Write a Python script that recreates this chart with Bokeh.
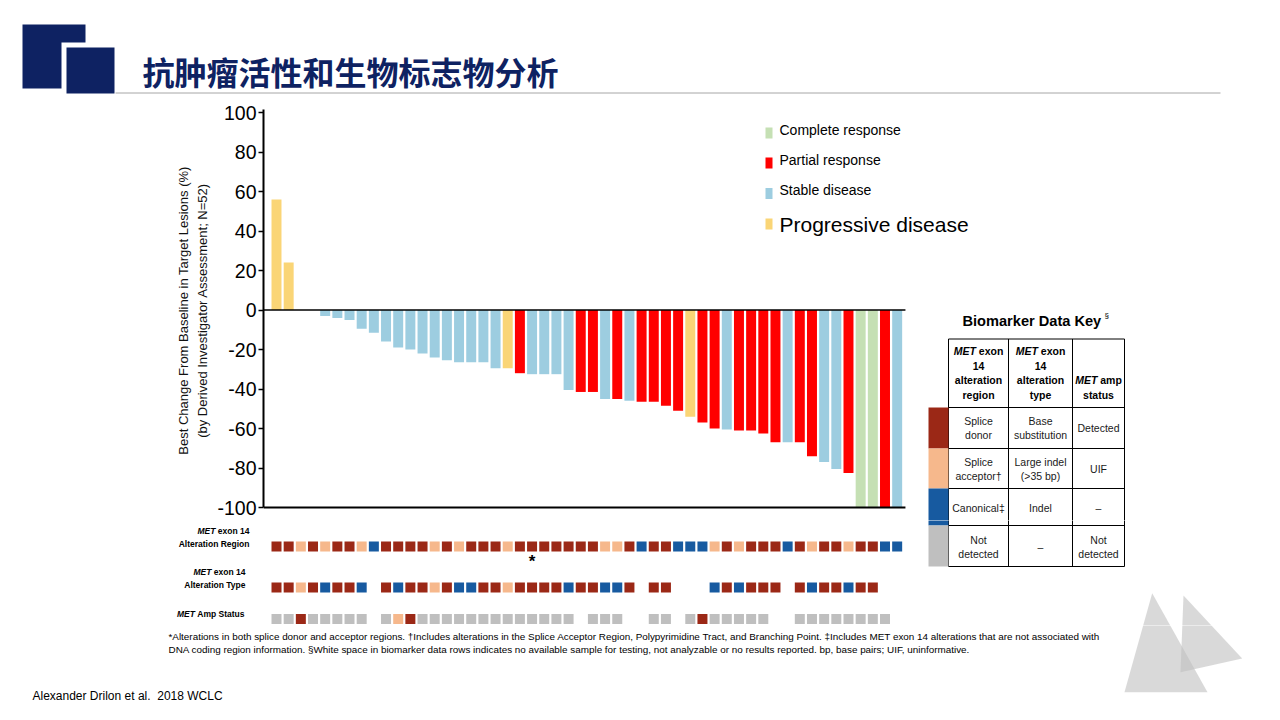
from bokeh.plotting import figure
from bokeh.layouts import column
from bokeh.models import Range1d, FixedTicker
from bokeh.core.properties import value
from bokeh.embed import file_html
from bokeh.resources import INLINE

# ---------------- data ----------------
change_pct = [56, 24, 0, 0, -3, -4, -5, -9.5, -11.5, -16, -19, -20, -22, -24, -25.5,
              -26.5, -26.5, -26.5, -29.5, -29.5, -32, -32.5, -32.5, -32.5, -40.5, -41.5,
              -41.5, -45, -45, -46, -46.5, -46.5, -48.5, -51, -54, -57, -60, -60.5, -61,
              -61, -62.5, -67, -67, -67, -74, -77, -80.5, -82.5, -100, -100, -100, -100]
response = (["PD", "PD", "NE", "NE"] + ["SD"] * 15 +
            ["PD", "PR", "SD", "SD", "SD", "SD", "PR", "PR", "SD", "PR", "SD", "PR", "PR",
             "PR", "PR", "PD", "PR", "PR", "SD", "PR", "PR", "PR", "PR", "SD", "PR", "PR",
             "SD", "SD", "PR", "CR", "CR", "PR", "SD"])
# biomarker rows: D = dark red, A = peach, C = blue, G = grey, None = no sample
alt_region = ["D", "D", "A", "D", "A", "D", "D", "A", "C", "D",
              "D", "D", "D", "A", "D", "A", "D", "D", "D", "A",
              "D", "D", "D", "D", "D", "D", "D", "A", "A", "D",
              "C", "D", "D", "C", "C", "C", "A", "D", "A", "D",
              "D", "D", "C", "D", "A", "D", "D", "A", "D", "D",
              "C", "C"]
alt_type = ["D", "D", "A", "D", "C", "D", "D", "C", None, "D",
            "C", "D", "D", "A", "D", "C", "C", "D", "D", "A",
            "D", "D", "D", "D", "C", "D", "D", "C", "C", "D",
            None, "D", "D", None, None, None, "C", "D", "C", "D",
            "D", "D", None, "D", "C", "D", "D", "C", "D", "D",
            None, None]
amp_status = ["G", "G", "D", "G", "G", "G", "G", "G", None, "G",
              "A", "D", "G", "G", "G", "G", "G", "G", "G", "G",
              "G", "G", "G", "G", "G", None, "G", "G", "G", None,
              None, "G", "G", None, "G", "D", "G", "G", "G", "G",
              "G", None, None, "G", "G", "G", "G", "G", "G", "G",
              "G", None]
asterisk_patient = 21

y_ticks = [-100, -80, -60, -40, -20, 0, 20, 40, 60, 80, 100]
legend_labels = ["Complete response", "Partial response", "Stable disease", "Progressive disease"]
legend_keys = ["CR", "PR", "SD", "PD"]

title_text = "抗肿瘤活性和生物标志物分析"
y_label = "Best Change From Baseline in Target Lesions (%)\n(by Derived Investigator Assessment; N=52)"
footnote_1 = ("*Alterations in both splice donor and acceptor regions. \u2020Includes alterations in the Splice "
              "Acceptor Region, Polypyrimidine Tract, and Branching Point. \u2021Includes MET exon 14 "
              "alterations that are not associated with")
footnote_2 = ("DNA coding region information. \u00a7White space in biomarker data rows indicates no available "
              "sample for testing, not analyzable or no results reported. bp, base pairs; UIF, uninformative.")
author = "Alexander Drilon et al.\u00a0 2018 WCLC"

# ---------------- styles ----------------
RESP_COLORS = {"CR": "#C5E0B4", "PR": "#FF0000", "SD": "#9DCDE0", "PD": "#FAD576", "NE": "#FFFFFF"}
BIO_COLORS = {"D": "#9B2816", "A": "#F6B88C", "C": "#175AA0", "G": "#BFBFBF"}
NAVY = "#0E2262"
FONT = "Liberation Sans"
W, H = 1264, 704
COL0, COLW = 276.0, 12.17      # page-x of patient 0 centre, spacing
ZERO_Y, UNIT = 309.5, 1.975    # page-y of 0 %, px per %

def make_fig(y0, y1, frame_left, x_range, y_range=None, with_axis=False):
    p = figure(width=W, height=y1 - y0, x_range=x_range,
               y_range=y_range if y_range is not None else Range1d(y1, y0),
               output_backend="svg", toolbar_location=None,
               x_axis_location=None, y_axis_location="left" if with_axis else None,
               min_border_left=frame_left, min_border_right=0,
               min_border_top=0, min_border_bottom=0)
    if "frame_align" in p.properties():
        p.frame_align = False
    p.extra_x_ranges = {"px": Range1d(frame_left, W)}
    p.extra_y_ranges = {"px": Range1d(y1, y0)}
    p.outline_line_color = None
    p.grid.visible = False
    p.background_fill_color = "white"
    p.border_fill_color = "white"
    return p

def col_range(frame_left):
    return Range1d((frame_left - COL0) / COLW, (W - COL0) / COLW)

header = make_fig(0, 100, 0, Range1d(0, W))
top = make_fig(100, 520, 263, col_range(263),
               y_range=Range1d((ZERO_Y - 520) / UNIT, (ZERO_Y - 100) / UNIT), with_axis=True)
bottom = make_fig(520, 625, 0, col_range(0))
footer = make_fig(625, H, 0, Range1d(0, W))
bands = [(header, 0, 100), (top, 100, 520), (bottom, 520, 625), (footer, 625, H)]

def figs_for(ymin, ymax):
    return [f for f, a, b in bands if ymax > a and ymin < b]

def fig_at(y):
    for f, a, b in bands:
        if a <= y < b:
            return f
    return bands[-1][0]

def txt(x, y, s, size, bold=False, italic=False, color="black", align="left", font=FONT, baseline="middle"):
    style = "bold italic" if bold and italic else ("bold" if bold else ("italic" if italic else "normal"))
    fig_at(y).text(x=[x], y=[y], text=[s], x_range_name="px", y_range_name="px",
                   text_font=value(font), text_font_size=f"{size}px", text_font_style=style,
                   text_color=color, text_align=align, text_baseline=baseline)

def box(x0, x1, y0, y1, color, alpha=1.0):
    for f in figs_for(y0, y1):
        f.quad(left=[x0], right=[x1], top=[y0], bottom=[y1], x_range_name="px", y_range_name="px",
               fill_color=color, fill_alpha=alpha, line_color=None)

def hline(x0, x1, y, color="black", width=1.0):
    for f in figs_for(y - 1, y + 1):
        f.segment(x0=[x0], y0=[y], x1=[x1], y1=[y], x_range_name="px", y_range_name="px",
                  line_color=color, line_width=width)

def vline(x, y0, y1, color="black", width=1.0):
    for f in figs_for(y0, y1):
        f.segment(x0=[x], y0=[y0], x1=[x], y1=[y1], x_range_name="px", y_range_name="px",
                  line_color=color, line_width=width)

# ---------------- header ----------------
box(22, 85, 24, 88, NAVY)
box(61, 119, 42, 98, "white")
box(66, 114, 47, 93, NAVY)
txt(142, 70, title_text, 32, bold=True, color=NAVY, font="Noto Sans CJK SC")
hline(115, 1220, 92.5, color="#A6A6A6", width=1)

# ---------------- waterfall ----------------
n = len(change_pct)
idx = list(range(n))
bar_colors = [RESP_COLORS[r] for r in response]
top.vbar(x=idx, top=change_pct, bottom=0, width=0.82, fill_color=bar_colors, line_color=None)
x_end = n - 0.32
top.segment(x0=[top.x_range.start], y0=[0], x1=[x_end], y1=[0], line_color="black", line_width=1.5)
top.segment(x0=[top.x_range.start], y0=[-100], x1=[x_end], y1=[-100], line_color="black", line_width=2)

ax = top.yaxis[0]
ax.ticker = FixedTicker(ticks=y_ticks)
ax.major_label_overrides = {t: str(t) for t in y_ticks}
ax.bounds = (-100, 101.5)
ax.axis_line_color = "black"
ax.axis_line_width = 2
ax.major_tick_in = 0
ax.major_tick_out = 5
ax.major_tick_line_width = 1.5
ax.minor_tick_line_color = None
ax.major_label_text_font = FONT
ax.major_label_text_font_size = "19.5px"
ax.major_label_text_color = "black"
ax.major_label_standoff = 2
ax.axis_label = y_label
ax.axis_label_text_font = FONT
ax.axis_label_text_font_size = "13px"
ax.axis_label_text_font_style = "normal"
ax.axis_label_text_color = "#111111"
ax.axis_label_text_line_height = 1.3
ax.axis_label_standoff = 4

# legend
leg_y = [132.5, 162.5, 193, 223.5]
leg_sizes = [14, 14, 14, 21]
leg_text_y = [129, 159, 189, 224]
for key, lab, yy, ty, sz in zip(legend_keys, legend_labels, leg_y, leg_text_y, leg_sizes):
    box(765, 772, yy - 5.5, yy + 5.5, RESP_COLORS[key])
    txt(779, ty, lab, sz)

# ---------------- biomarker rows ----------------
for codes, yrow in [(alt_region, 546), (alt_type, 587), (amp_status, 618.5)]:
    xs = [i for i, c in enumerate(codes) if c is not None]
    cs = [BIO_COLORS[c] for c in codes if c is not None]
    bottom.scatter(x=xs, y=[yrow] * len(xs), marker="square", size=10,
                   fill_color=cs, line_color=None, y_range_name="px")
bottom.text(x=[asterisk_patient], y=[561], text=["*"], y_range_name="px",
            text_font=value(FONT), text_font_size="17px", text_font_style="bold",
            text_align="center", text_baseline="middle", text_color="black")

LBL = 8.5
def met_label(right, y, rest, rest_em):
    txt(right, y, rest, LBL, bold=True, align="right")
    txt(right - (rest_em + 0.278) * LBL, y, "MET", LBL, bold=True, italic=True, align="right")

met_label(249, 530, "exon 14", 3.724)
txt(249, 543.5, "Alteration Region", LBL, bold=True, align="right")
met_label(245, 571.5, "exon 14", 3.724)
txt(245, 584.5, "Alteration Type", LBL, bold=True, align="right")
met_label(244, 613, "Amp Status", 5.556)

# ---------------- biomarker key table ----------------
txt(962, 320, "Biomarker Data Key", 14.6, bold=True)
txt(1104, 315, "\u00a7", 8)
TX0, TX1, TX2, TX3 = 948, 1008, 1072, 1124
TY = [338.5, 407, 448, 488, 525, 566]
for yy in TY:
    hline(TX0, TX3, yy)
for xx in [TX0, TX1, TX2, TX3]:
    vline(xx, TY[0], TY[-1])
for (ya, yb), c in zip(zip(TY[1:-1], TY[2:]), ["D", "A", "C", "G"]):
    box(928, TX0, ya, yb, BIO_COLORS[c])

HS = 10.5
c1, c2, c3 = (TX0 + TX1) / 2, (TX1 + TX2) / 2, (TX2 + TX3) / 2
def met_center(cx, y, rest, rest_em):
    w_met = 2.111 * HS
    gap = 0.278 * HS
    total = w_met + gap + rest_em * HS
    x0 = cx - total / 2
    txt(x0, y, "MET", HS, bold=True, italic=True)
    txt(x0 + w_met + gap, y, rest, HS, bold=True)
for cx, last in [(c1, "region"), (c2, "type")]:
    met_center(cx, 350, "exon", 2.334)
    txt(cx, 365, "14", HS, bold=True, align="center")
    txt(cx, 379.5, "alteration", HS, bold=True, align="center")
    txt(cx, 394, last, HS, bold=True, align="center")
met_center(c3, 379.5, "amp", 2.056)
txt(c3, 394, "status", HS, bold=True, align="center")

CS = 10.5
cells = [
    (c1, [(420, "Splice"), (434, "donor")]),
    (c2, [(420, "Base"), (434, "substitution")]),
    (c3, [(427, "Detected")]),
    (c1, [(461, "Splice"), (475, "acceptor\u2020")]),
    (c2, [(461, "Large indel"), (475, "(>35 bp)")]),
    (c3, [(468, "UIF")]),
    (c1, [(507, "Canonical\u2021")]),
    (c2, [(507, "Indel")]),
    (c3, [(507, "\u2013")]),
    (c1, [(539, "Not"), (553, "detected")]),
    (c2, [(546, "\u2013")]),
    (c3, [(539, "Not"), (553, "detected")]),
]
for cx, lines in cells:
    for yy, s in lines:
        txt(cx, yy, s, CS, color="#1A1A1A", align="center")

# ---------------- footer ----------------
txt(168, 636, footnote_1, 9.9)
txt(168, 648.5, footnote_2, 9.9)
txt(32, 695, author, 12)

tri = [([1151.7, 1124, 1207], [592.7, 691.7, 691.7]),
       ([1183, 1241.7, 1180], [595, 658, 671.7])]
for xs, ys in tri:
    for f in figs_for(min(ys), max(ys)):
        f.patch(x=xs, y=ys, x_range_name="px", y_range_name="px",
                fill_color="#BFBFBF", fill_alpha=0.6, line_color=None)

layout = column(header, top, bottom, footer, spacing=0)
open("out.html", "w").write(file_html(layout, INLINE))
